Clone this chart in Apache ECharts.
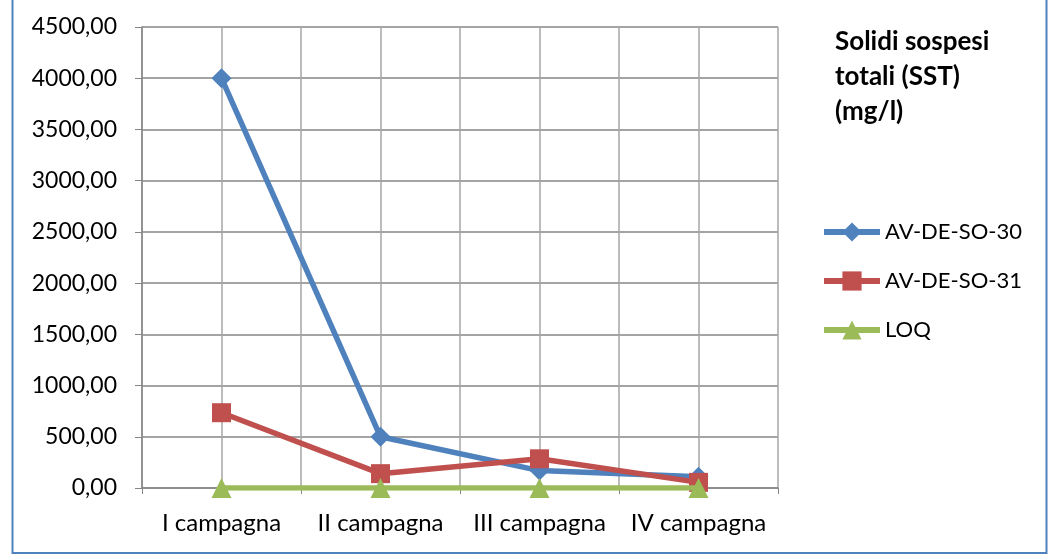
<!DOCTYPE html>
<html><head><meta charset="utf-8">
<script src="https://cdn.jsdelivr.net/npm/echarts@6/dist/echarts.min.js"></script>
<style>html,body{margin:0;padding:0;background:#fff}#c{width:1058px;height:556px}</style>
</head><body><div id="c"></div>
<script>
const categories = ['I campagna', 'II campagna', 'III campagna', 'IV campagna'];
const av30 = [4000, 500, 170, 110];
const av31 = [735, 140, 285, 55];
const loq = [0, 0, 0, 0];
const titleText = 'Solidi sospesi\ntotali (SST)\n(mg/l)';
const FONT = 'Lato';

const chart = echarts.init(document.getElementById('c'), null, {renderer: 'canvas'});
const fmt = v => v.toFixed(2).replace('.', ',');
chart.setOption({
  animation: false,
  backgroundColor: '#fff',
  textStyle: {fontFamily: FONT},
  title: {
    text: titleText, left: 830, top: 19,
    textStyle: {fontFamily: FONT, fontSize: 26, fontWeight: 'bold', color: '#000', lineHeight: 35}
  },
  graphic: [{
    type: 'rect', shape: {x: 12.5, y: -5, width: 1034, height: 558},
    style: {fill: 'none', stroke: '#4F81BD', lineWidth: 2}, silent: true
  }],
  legend: {
    orient: 'vertical', left: 816, top: 216, itemGap: 27, itemWidth: 56, itemHeight: 24,
    textStyle: {fontFamily: FONT, fontSize: 22, color: '#000'},
    lineStyle: {width: 6},
    data: ['AV-DE-SO-30', 'AV-DE-SO-31', 'LOQ']
  },
  grid: {left: 142, right: 280, top: 27, bottom: 68, containLabel: false},
  xAxis: [{
    type: 'category', data: categories, boundaryGap: true,
    axisLine: {lineStyle: {color: '#868686', width: 1.5}},
    axisTick: {show: true, length: 6, lineStyle: {color: '#868686'}},
    axisLabel: {fontFamily: FONT, fontSize: 24, color: '#000', margin: 23, interval: 0, hideOverlap: false},
    splitLine: {show: false}
  }, {
    type: 'value', min: 0, max: 8, interval: 1, position: 'bottom',
    axisLine: {show: false}, axisTick: {show: false}, axisLabel: {show: false},
    splitLine: {show: true, lineStyle: {color: '#A6A6A6', width: 1.5}}
  }],
  yAxis: {
    type: 'value', min: 0, max: 4500, interval: 500,
    axisLine: {show: true, lineStyle: {color: '#868686', width: 1.5}},
    axisTick: {show: true, length: 7, lineStyle: {color: '#868686'}},
    axisLabel: {fontFamily: FONT, fontSize: 23, color: '#000', margin: 25, formatter: fmt},
    splitLine: {show: true, lineStyle: {color: '#868686', width: 1.5}}
  },
  series: [{
    name: 'AV-DE-SO-30', type: 'line', data: av30, xAxisIndex: 0,
    symbol: 'diamond', symbolSize: 20,
    lineStyle: {color: '#4F81BD', width: 5.5}, itemStyle: {color: '#4F81BD'}, z: 3
  }, {
    name: 'AV-DE-SO-31', type: 'line', data: av31, xAxisIndex: 0,
    symbol: 'rect', symbolSize: 19,
    lineStyle: {color: '#C0504D', width: 5.5}, itemStyle: {color: '#C0504D'}, z: 4
  }, {
    name: 'LOQ', type: 'line', data: loq, xAxisIndex: 0,
    symbol: 'triangle', symbolSize: 20,
    lineStyle: {color: '#9BBB59', width: 5.5}, itemStyle: {color: '#9BBB59'}, z: 5
  }]
});
</script>
</body></html>
